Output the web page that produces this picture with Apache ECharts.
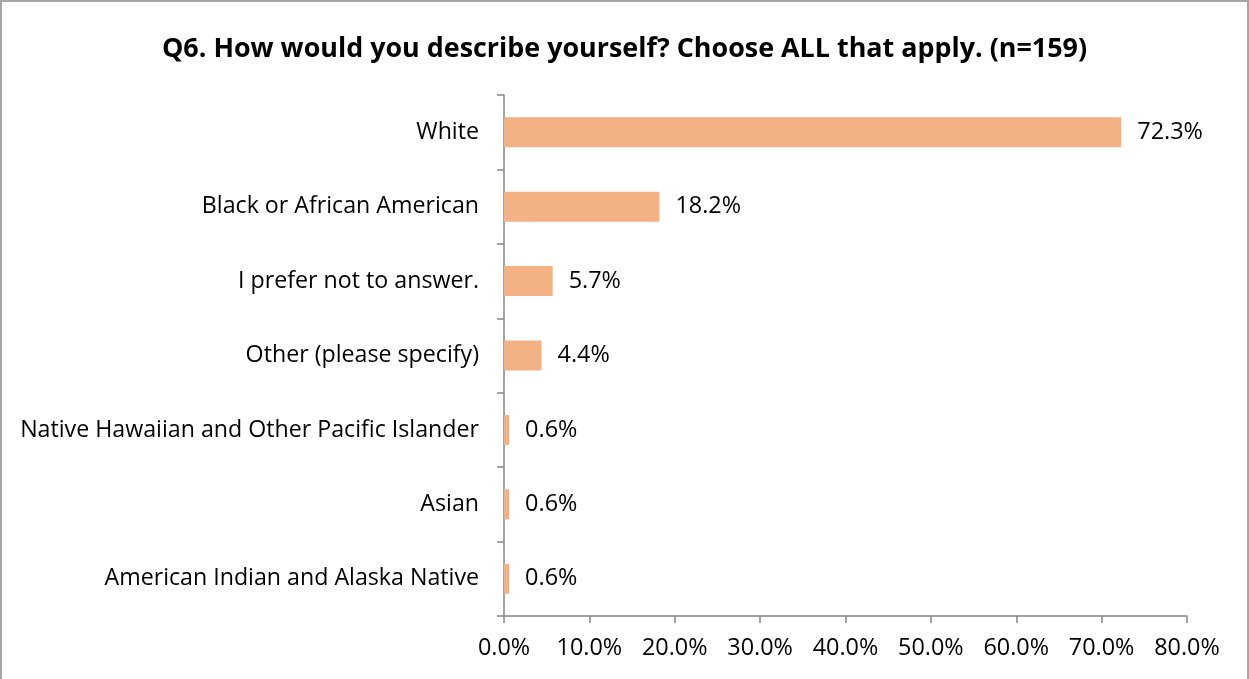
<!DOCTYPE html>
<html><head><meta charset="utf-8">
<script src="https://cdn.jsdelivr.net/npm/echarts@6/dist/echarts.min.js"></script>
<style>html,body{margin:0;padding:0;background:#fff}#c{width:1249px;height:679px;box-sizing:border-box;border:2px solid #a6a6a6;border-bottom:none;}</style>
</head><body><div id="c"></div>
<script>
const titleText = 'Q6. How would you describe yourself? Choose ALL that apply. (n=159)';
const categories = ['American Indian and Alaska Native','Asian','Native Hawaiian and Other Pacific Islander','Other (please specify)','I prefer not to answer.','Black or African American','White'];
const values = [0.6,0.6,0.6,4.4,5.7,18.2,72.3];
const xTicks = [0,10,20,30,40,50,60,70,80];
const chart = echarts.init(document.getElementById('c'));
const font = '"Open Sans", "Liberation Sans", sans-serif';
chart.setOption({
  animation:false,
  title:{text:titleText,left:'center',top:29,textStyle:{fontFamily:font,fontWeight:'bold',fontSize:26.9,color:'#000'}},
  grid:{left:502,right:60,top:93,bottom:63,containLabel:false},
  xAxis:{type:'value',min:xTicks[0],max:xTicks[xTicks.length-1],interval:10,
    axisLine:{show:true,lineStyle:{color:'#868686',width:1.5}},
    axisTick:{show:true,length:7,lineStyle:{color:'#868686',width:1.5}},
    splitLine:{show:false},
    axisLabel:{formatter:v=>v.toFixed(1)+'%',fontFamily:font,fontSize:23.4,color:'#000',margin:21}},
  yAxis:{type:'category',data:categories,
    axisLine:{show:true,lineStyle:{color:'#868686',width:1.5}},
    axisTick:{show:true,length:7,lineStyle:{color:'#868686',width:1.5}},
    axisLabel:{fontFamily:font,fontSize:23.2,color:'#000',margin:25}},
  series:[{type:'bar',data:values,barWidth:30,
    itemStyle:{color:'#F4B183'},
    label:{show:true,position:'right',distance:16,formatter:p=>p.value.toFixed(1)+'%',fontFamily:font,fontSize:23.4,color:'#000'}}]
});
</script></body></html>
